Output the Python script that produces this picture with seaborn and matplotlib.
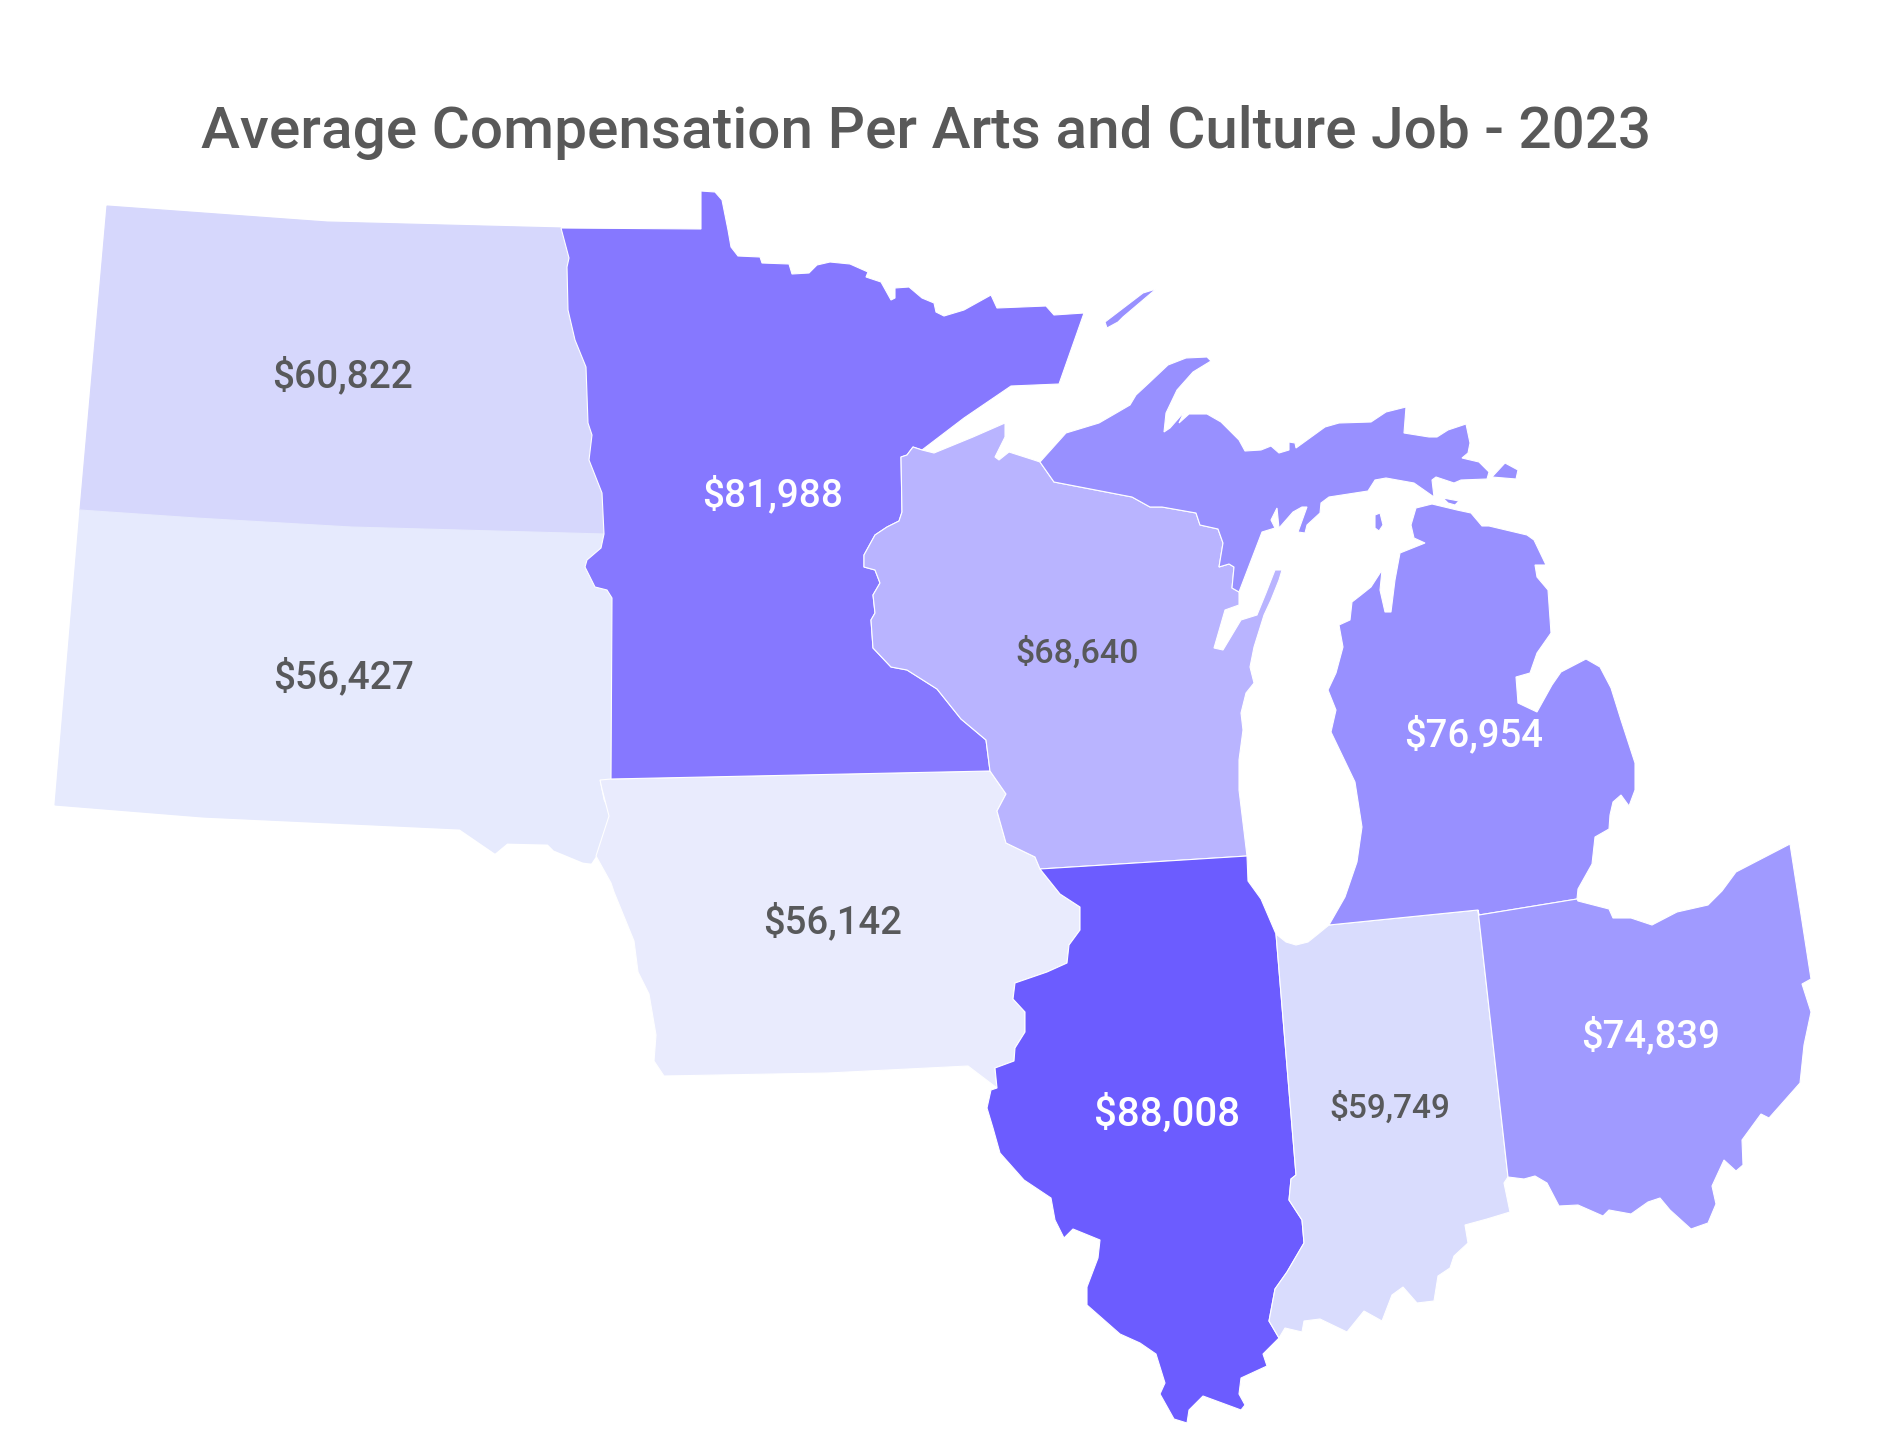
import matplotlib
matplotlib.use("Agg")
import matplotlib.pyplot as plt
import seaborn as sns

sns.set_theme(style="white")
plt.rcParams["font.family"] = ["Roboto", "DejaVu Sans"]

title = "Average Compensation Per Arts and Culture Job - 2023"

states = ["ND", "SD", "IA", "MN", "WI", "IL", "IN", "MI", "OH"]
comp_labels = ["$60,822", "$56,427", "$56,142", "$81,988", "$68,640", "$88,008", "$59,749", "$76,954", "$74,839"]
fill_colors = ["#D6D7FC", "#E6EAFD", "#E9EBFD", "#8678FF", "#B9B4FF", "#6C5CFF", "#D9DCFD", "#9890FF", "#A09AFF"]
label_colors = ["#58595B", "#58595B", "#58595B", "white", "#58595B", "white", "#58595B", "white", "white"]
label_x = [342, 344, 833, 773, 1077, 1167, 1390, 1474, 1651]
label_y = [376, 677, 922, 495, 653, 1114, 1108, 735, 1036]
label_sizes = [28, 28, 27.5, 28, 24.5, 29, 24, 27.5, 27.5]

# shared borders (pixels)
nd_mn = [(561, 228), (569, 258), (567, 267), (568, 310), (575, 340), (586, 367), (588, 423), (592, 435), (589, 460), (602, 493), (604, 534)]
sd_mn = [(604, 534), (601, 548), (587, 560), (585, 567), (595, 587), (607, 590), (612, 598), (611, 779)]
mn_wi = [(922, 450), (913, 447), (907, 455), (901, 457), (902, 512), (899, 521), (887, 527), (875, 535), (864, 555), (864, 567), (875, 570),
         (880, 583), (873, 595), (875, 613), (871, 620), (873, 648), (891, 667), (907, 670), (937, 689), (961, 719), (986, 740), (990, 771)]
ia_wi = [(990, 771), (1006, 794), (997, 811), (1006, 843), (1035, 857), (1040, 869)]
ia_il = [(1040, 869), (1060, 894), (1080, 907), (1080, 930), (1069, 945), (1067, 963), (1047, 972), (1015, 983), (1013, 999), (1025, 1012),
         (1025, 1032), (1015, 1048), (1014, 1061), (995, 1068), (997, 1088)]
wi_up = [(1239, 592), (1232, 588), (1234, 567), (1229, 564), (1219, 567), (1223, 543), (1218, 529), (1200, 525), (1196, 513), (1162, 507),
         (1150, 507), (1132, 497), (1054, 482), (1040, 462)]
il_in = [(1276, 934), (1296, 1175), (1291, 1179), (1289, 1200), (1302, 1220), (1304, 1243), (1287, 1272), (1275, 1289), (1269, 1321), (1279, 1338)]
mi_in_oh = [(1329, 925), (1478, 910)]
in_oh = [(1478, 910), (1508, 1177)]

nd_rest = [(351, 527), (196, 518), (80, 510), (107, 206), (327, 222)]
sd_rest = [(599, 780), (603, 800), (609, 813), (609, 827), (595, 857), (591, 863), (583, 862), (554, 850), (548, 844), (507, 843), (495, 853),
           (460, 829), (203, 817), (55, 805), (80, 510), (196, 518), (351, 527)]
ia_rest = [(968, 1066), (828, 1073), (664, 1076), (654, 1061), (656, 1035), (649, 994), (638, 972), (634, 941), (614, 892), (611, 883),
           (596, 856), (609, 816), (602, 789), (600, 780), (611, 779)]
mn_north = [(701, 229), (701, 191), (715, 192), (722, 200), (728, 230), (731, 247), (738, 256), (760, 257), (762, 263), (789, 264), (792, 274),
            (809, 273), (817, 265), (830, 262), (850, 264), (868, 272), (866, 277), (881, 282), (891, 300), (895, 298), (895, 288), (909, 287),
            (922, 298), (934, 303), (936, 312), (944, 316), (964, 310), (991, 295), (997, 308), (1046, 306), (1054, 315), (1084, 313), (1059, 384),
            (1011, 386), (964, 418)]
wi_north = [(934, 453), (973, 437), (1005, 423), (1005, 437), (995, 457), (999, 460), (1009, 452), (1034, 460)]
wi_coast = [(1040, 869), (1247, 856), (1239, 790), (1239, 760), (1243, 730), (1241, 713), (1246, 693), (1254, 683), (1250, 667), (1254, 647),
            (1264, 615), (1271, 600), (1279, 580), (1282, 570), (1275, 570), (1266, 593), (1257, 615), (1241, 620), (1223, 650), (1214, 648),
            (1225, 610), (1239, 605)]
il_rest = [(1279, 1338), (1263, 1354), (1267, 1366), (1241, 1378), (1239, 1394), (1245, 1405), (1241, 1410), (1203, 1396), (1189, 1410), (1187, 1423),
           (1174, 1419), (1160, 1394), (1165, 1383), (1156, 1354), (1140, 1343), (1120, 1334), (1087, 1305), (1087, 1287), (1098, 1258), (1100, 1240),
           (1073, 1229), (1064, 1238), (1055, 1220), (1051, 1198), (1024, 1180), (1000, 1153), (993, 1128), (987, 1108), (991, 1090)]
il_top = [(1040, 869), (1247, 856), (1248, 881), (1261, 899)]
in_south = [(1504, 1183), (1510, 1212), (1487, 1219), (1465, 1225), (1468, 1243), (1454, 1256), (1450, 1268), (1438, 1276), (1434, 1301), (1417, 1303),
            (1403, 1287), (1392, 1295), (1382, 1321), (1364, 1311), (1347, 1332), (1320, 1319), (1304, 1321), (1302, 1332), (1285, 1328)]
in_lake = [(1286, 942), (1296, 945), (1308, 942), (1318, 934)]
oh_rest = [(1577, 899), (1578, 901), (1609, 909), (1613, 918), (1631, 918), (1652, 925), (1677, 912), (1708, 905), (1722, 891), (1736, 872), (1790, 844),
           (1811, 979), (1802, 984), (1811, 1012), (1804, 1045), (1800, 1083), (1769, 1118), (1761, 1114), (1742, 1140), (1743, 1165), (1736, 1171),
           (1724, 1160), (1712, 1186), (1716, 1204), (1708, 1223), (1691, 1229), (1670, 1210), (1660, 1198), (1648, 1202), (1631, 1214), (1609, 1210),
           (1603, 1216), (1578, 1205), (1559, 1206), (1547, 1183), (1535, 1176), (1524, 1179), (1508, 1177)]
up_north = [(1066, 433), (1099, 423), (1118, 412), (1130, 405), (1136, 395), (1150, 382), (1168, 365), (1186, 358), (1207, 357), (1211, 361), (1193, 372),
            (1177, 390), (1166, 413), (1164, 432), (1170, 428), (1184, 412), (1179, 423), (1189, 414), (1207, 414), (1221, 422), (1239, 440), (1245, 451),
            (1261, 450), (1271, 446), (1279, 453), (1289, 450), (1289, 442), (1295, 443), (1296, 448), (1325, 427), (1339, 423), (1371, 422), (1386, 412),
            (1406, 407), (1404, 433), (1429, 437), (1437, 437), (1448, 430), (1466, 424), (1470, 443), (1468, 453), (1462, 458), (1479, 462), (1489, 472),
            (1487, 479), (1461, 480), (1454, 483), (1436, 477), (1432, 480), (1434, 497), (1414, 483), (1386, 478), (1375, 480), (1368, 491), (1329, 497),
            (1321, 503), (1320, 513), (1307, 525), (1305, 533), (1298, 532), (1307, 507), (1302, 507), (1293, 512), (1279, 528), (1277, 508), (1271, 520),
            (1275, 528), (1262, 532)]
lower_mi = [(1432, 504), (1416, 508), (1411, 525), (1414, 538), (1425, 543), (1400, 553), (1395, 580), (1391, 612), (1385, 612), (1380, 590), (1382, 570),
            (1371, 587), (1361, 595), (1352, 602), (1350, 620), (1339, 625), (1343, 647), (1336, 673), (1328, 690), (1336, 710), (1331, 732), (1355, 782),
            (1362, 827), (1357, 862), (1345, 897), (1329, 925), (1478, 910), (1479, 915), (1577, 899), (1578, 889), (1592, 864), (1595, 837), (1609, 829),
            (1610, 815), (1613, 802), (1621, 795), (1629, 806), (1635, 790), (1635, 763), (1621, 720), (1611, 688), (1600, 667), (1586, 659), (1561, 672),
            (1552, 685), (1537, 712), (1518, 703), (1516, 677), (1530, 673), (1537, 653), (1551, 633), (1548, 590), (1537, 577), (1535, 565), (1546, 565),
            (1534, 540), (1527, 535), (1489, 526), (1482, 526), (1471, 513), (1457, 510)]
isle_royale = [(1156, 289), (1143, 293), (1105, 322), (1107, 328), (1118, 322), (1123, 317)]
beaver_island = [(1375, 515), (1380, 513), (1383, 525), (1379, 531), (1375, 528)]
bois_blanc = [(1443, 498), (1459, 501), (1455, 505), (1448, 503)]
drummond = [(1492, 477), (1505, 463), (1518, 470), (1516, 479)]

outlines = {
    "ND": [nd_mn + nd_rest],
    "SD": [sd_mn + sd_rest],
    "IA": [[(611, 779)] + mn_wi[-1:] + ia_wi[1:] + ia_il[1:] + ia_rest],
    "MN": [nd_mn + sd_mn[1:] + mn_wi[::-1] + mn_north[::-1] + [(561, 228)]],
    "WI": [mn_wi + ia_wi[1:] + wi_coast[1:] + wi_up + wi_north[::-1]],
    "IL": [il_top + il_in + il_rest + ia_il[::-1]],
    "IN": [il_in[::-1] + in_lake + mi_in_oh + in_oh + in_south],
    "MI": [up_north + wi_up, lower_mi, isle_royale, beaver_island, bois_blanc, drummond],
    "OH": [[(1478, 910), (1479, 915)] + oh_rest],
}

fig, ax = plt.subplots(figsize=(18.86, 14.4), dpi=100)
fig.subplots_adjust(left=0, right=1, bottom=0, top=1)

for state, color in zip(states, fill_colors):
    for part in outlines[state]:
        xs = [p[0] for p in part]
        ys = [p[1] for p in part]
        ax.fill(xs, ys, facecolor=color, edgecolor="white" if state not in ("ND", "SD") else color, linewidth=0.8)

for lab, x, y, c, s in zip(comp_labels, label_x, label_y, label_colors, label_sizes):
    ax.text(x, y, lab, color=c, fontsize=s, fontweight=500, ha="center", va="center")

ax.text(926, 133, title, color="#595959", fontsize=42.1, fontweight=500, ha="center", va="center")

ax.set_xlim(0, 1886)
ax.set_ylim(1440, 0)
ax.set_axis_off()
sns.despine(ax=ax, left=True, bottom=True)

fig.savefig("out.png", dpi=100, facecolor="white")
